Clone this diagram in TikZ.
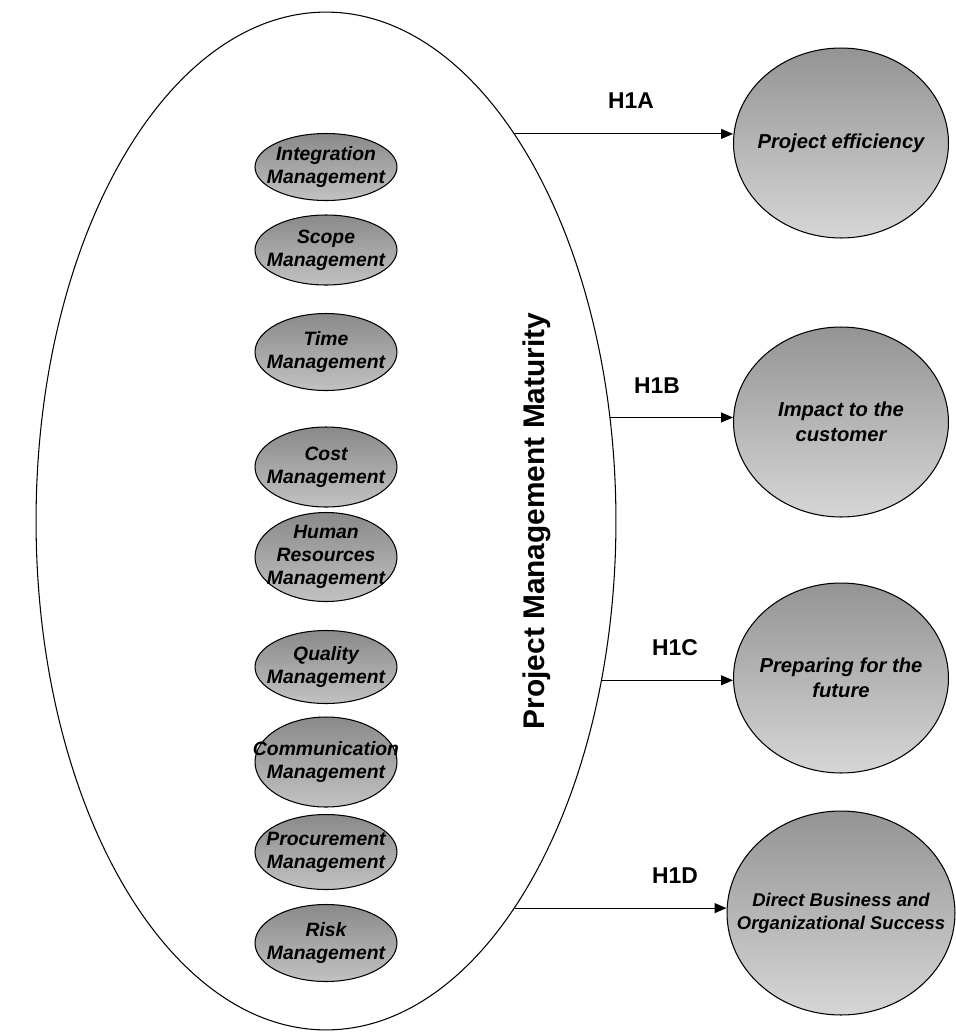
\documentclass[tikz,border=0pt]{standalone}
\usepackage{fontspec}
\setmainfont{Liberation Sans}
\usetikzlibrary{arrows.meta,shapes.geometric}
\tikzset{
  ka/.style={ellipse, draw, line width=0.6pt, top color=black!46, bottom color=black!24, inner sep=-40pt, minimum width=2.84cm, align=center, font=\fontsize{11}{13}\selectfont\bfseries\itshape},
  outcome/.style={ellipse, draw, line width=0.6pt, top color=black!42, bottom color=black!16, inner sep=-60pt, minimum width=4.3cm, minimum height=3.8cm, align=center, font=\fontsize{11.5}{14}\selectfont\bfseries\itshape},
  hyp/.style={font=\fontsize{13}{15}\selectfont\bfseries},
  arr/.style={-{Triangle[length=2.4mm, width=2mm]}, line width=0.6pt},
}

\begin{document}
\begin{tikzpicture}[x=0.02cm, y=-0.02cm]
  \useasboundingbox (0,0) rectangle (956,1032);
  % maturity ellipse and its knowledge areas
  \node[ellipse, draw, line width=0.6pt, minimum width=11.6cm, minimum height=20.36cm] (pmm) at (326,521) {};
  \node[rotate=90, font=\fontsize{17}{20}\selectfont\bfseries] (title) at (537,521) {Project Management Maturity};
  \node[ka, minimum height=1.34cm] (integ) at (326,167) {Integration\\Management};
  \node[ka, minimum height=1.4cm] (scope) at (326,250) {Scope\\Management};
  \node[ka, minimum height=1.54cm] (time) at (326,352) {Time\\Management};
  \node[ka, minimum height=1.6cm] (cost) at (326,467) {Cost\\Management};
  \node[ka, minimum height=1.78cm] (hr) at (326,557) {Human\\Resources\\Management};
  \node[ka, minimum height=1.46cm] (qual) at (326,667) {Quality\\Management};
  \node[ka, minimum height=1.8cm] (comm) at (326,762) {Communication\\Management};
  \node[ka, minimum height=1.5cm] (proc) at (326,852) {Procurement\\Management};
  \node[ka, minimum height=1.54cm] (risk) at (326,943) {Risk\\Management};
  % outcomes
  \node[outcome] (eff) at (841,143) {Project efficiency};
  \node[outcome] (cust) at (841,422) {Impact to the\\customer};
  \node[outcome] (fut) at (841,678) {Preparing for the\\future};
  \node[outcome, minimum width=4.56cm, minimum height=4.08cm, font=\fontsize{10.5}{13}\selectfont\bfseries\itshape] (succ) at (841,913) {Direct Business and\\Organizational Success};
  % hypotheses
  \draw[arr] (pmm.64.18) -- (pmm.64.18 -| eff.west);
  \draw[arr] (pmm.20.31) -- (pmm.20.31 -| cust.west);
  \draw[arr] (pmm.-30.16) -- (pmm.-30.16 -| fut.west);
  \draw[arr] (pmm.-64.32) -- (pmm.-64.32 -| succ.west);
  \node[hyp] (h1a) at (631,101) {H1A};
  \node[hyp] (h1b) at (657,386) {H1B};
  \node[hyp] (h1c) at (675,648) {H1C};
  \node[hyp] (h1d) at (675,876) {H1D};
\end{tikzpicture}
\end{document}
